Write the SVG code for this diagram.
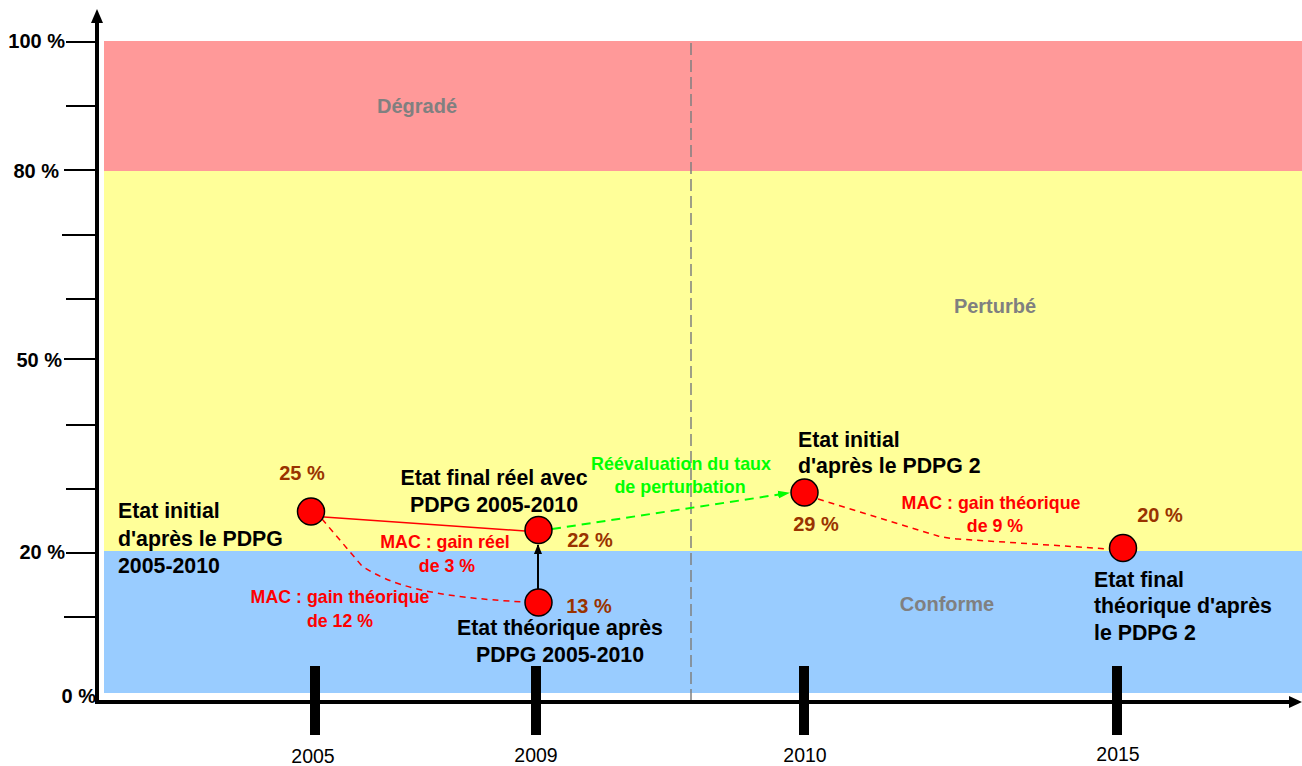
<svg xmlns="http://www.w3.org/2000/svg" width="1302" height="766" viewBox="0 0 1302 766">
<style>
.lbl{font-family:"Liberation Sans",Arial,sans-serif;font-weight:bold;font-size:21.3px;fill:#000}
.axl{font-family:"Liberation Sans",Arial,sans-serif;font-weight:bold;font-size:20px;fill:#000;text-anchor:end}
.yr{font-family:"Liberation Sans",Arial,sans-serif;font-size:19.5px;fill:#000;text-anchor:middle}
.band{font-family:"Liberation Sans",Arial,sans-serif;font-weight:bold;font-size:20px;fill:#808080;text-anchor:middle}
.pct{font-family:"Liberation Sans",Arial,sans-serif;font-weight:bold;font-size:20px;fill:#993300;text-anchor:middle}
.mac{font-family:"Liberation Sans",Arial,sans-serif;font-weight:bold;font-size:17.8px;fill:#FF0000;text-anchor:middle}
.grn{font-family:"Liberation Sans",Arial,sans-serif;font-weight:bold;font-size:17.9px;fill:#00FF00;text-anchor:middle}
.mid{text-anchor:middle}
.tick{stroke:#000;stroke-width:2}
.bar{fill:#000}
.pt{fill:#FF0000;stroke:#000;stroke-width:1.5}
</style>
<defs>
<marker id="ablk" markerWidth="10" markerHeight="10" refX="9" refY="5" orient="auto" markerUnits="userSpaceOnUse"><path d="M0,1 L10,5 L0,9 Z" fill="#000"/></marker>
<marker id="agrn" markerWidth="12" markerHeight="10" refX="11" refY="5" orient="auto" markerUnits="userSpaceOnUse"><path d="M0,1 L12,5 L0,9 Z" fill="#00FF00"/></marker>
</defs>
<g id="bands">
<rect x="104" y="41" width="1198" height="130" fill="#FF9999"/>
<rect x="104" y="171" width="1198" height="380" fill="#FFFF99"/>
<rect x="104" y="551" width="1198" height="142" fill="#99CCFF"/>
<line x1="691" y1="43" x2="691" y2="700" stroke="#808080" stroke-width="1.5" stroke-dasharray="12 5"/>
<text class="band" x="417" y="113">Dégradé</text>
<text class="band" x="995" y="313">Perturbé</text>
<text class="band" x="947" y="611">Conforme</text>
</g>
<g id="axes">
<line x1="97" y1="22" x2="97" y2="704" stroke="#000" stroke-width="4"/>
<path d="M91,23 L97,9 L103,23 Z" fill="#000"/>
<line x1="95" y1="702" x2="1290" y2="702" stroke="#000" stroke-width="4"/>
<path d="M1289,696 L1302,702 L1289,708 Z" fill="#000"/>
<line class="tick" x1="66" y1="42" x2="96" y2="42"/>
<line class="tick" x1="66" y1="106" x2="96" y2="106"/>
<line class="tick" x1="64" y1="170" x2="96" y2="170"/>
<line class="tick" x1="62" y1="235" x2="96" y2="235"/>
<line class="tick" x1="66" y1="299" x2="96" y2="299"/>
<line class="tick" x1="64" y1="359" x2="96" y2="359"/>
<line class="tick" x1="66" y1="425" x2="96" y2="425"/>
<line class="tick" x1="66" y1="489" x2="96" y2="489"/>
<line class="tick" x1="66" y1="553" x2="96" y2="553"/>
<line class="tick" x1="64" y1="617" x2="96" y2="617"/>
<text class="axl" x="65" y="48">100 %</text>
<text class="axl" x="59" y="178">80 %</text>
<text class="axl" x="62" y="367">50 %</text>
<text class="axl" x="65" y="559">20 %</text>
<text class="axl" x="96" y="703">0 %</text>
<rect class="bar" x="310" y="666" width="10" height="69"/>
<rect class="bar" x="531" y="666" width="10" height="69"/>
<rect class="bar" x="799" y="666" width="10" height="69"/>
<rect class="bar" x="1112" y="666" width="10" height="69"/>
<text class="yr" x="313" y="763">2005</text>
<text class="yr" x="536" y="762">2009</text>
<text class="yr" x="805" y="762">2010</text>
<text class="yr" x="1118" y="761">2015</text>
</g>
<g id="connectors">
<line x1="324" y1="517" x2="525" y2="531" stroke="#FF0000" stroke-width="1.5"/>
<path d="M322,519 L362,566 C392,586 432,597 525,602" fill="none" stroke="#FF0000" stroke-width="1.5" stroke-dasharray="6 5"/>
<line x1="538" y1="589" x2="538" y2="545" stroke="#000" stroke-width="2" marker-end="url(#ablk)"/>
<line x1="552" y1="529" x2="789" y2="493" stroke="#00FF00" stroke-width="2" stroke-dasharray="9 6" marker-end="url(#agrn)"/>
<path d="M818,499 L938,536 Q946,538 958,539 L1109,549" fill="none" stroke="#FF0000" stroke-width="1.5" stroke-dasharray="6 5"/>
<text class="mac" x="445" y="548">MAC : gain réel</text>
<text class="mac" x="447" y="572">de 3 %</text>
<text class="mac" x="340" y="603">MAC : gain théorique</text>
<text class="mac" x="340" y="627">de 12 %</text>
<text class="grn" x="681" y="470">Réévaluation du taux</text>
<text class="grn" x="680" y="493">de perturbation</text>
<text class="mac" x="991" y="509">MAC : gain théorique</text>
<text class="mac" x="995" y="532">de 9 %</text>
</g>
<g id="n2005">
<circle class="pt" cx="311" cy="511.5" r="13.5"/>
<text class="pct" x="302" y="480">25 %</text>
<text class="lbl" x="118" y="518">Etat initial</text>
<text class="lbl" x="118" y="545.5">d'après le PDPG</text>
<text class="lbl" x="118" y="573">2005-2010</text>
</g>
<g id="n2009reel">
<circle class="pt" cx="538.5" cy="530" r="13.5"/>
<text class="pct" x="590" y="547">22 %</text>
<text class="lbl mid" x="494" y="485">Etat final réel avec</text>
<text class="lbl mid" x="494" y="512">PDPG 2005-2010</text>
</g>
<g id="n2009theo">
<circle class="pt" cx="538.5" cy="602.5" r="13.5"/>
<text class="pct" x="589" y="613">13 %</text>
<text class="lbl mid" x="560" y="635">Etat théorique après</text>
<text class="lbl mid" x="560" y="662">PDPG 2005-2010</text>
</g>
<g id="n2010">
<circle class="pt" cx="804.5" cy="492.5" r="13.5"/>
<text class="pct" x="816" y="531">29 %</text>
<text class="lbl" x="798" y="447">Etat initial</text>
<text class="lbl" x="798" y="473">d'après le PDPG 2</text>
</g>
<g id="n2015">
<circle class="pt" cx="1123" cy="548" r="13.5"/>
<text class="pct" x="1160" y="522">20 %</text>
<text class="lbl" x="1094" y="587">Etat final</text>
<text class="lbl" x="1094" y="613">théorique d'après</text>
<text class="lbl" x="1094" y="640">le PDPG 2</text>
</g>
</svg>
